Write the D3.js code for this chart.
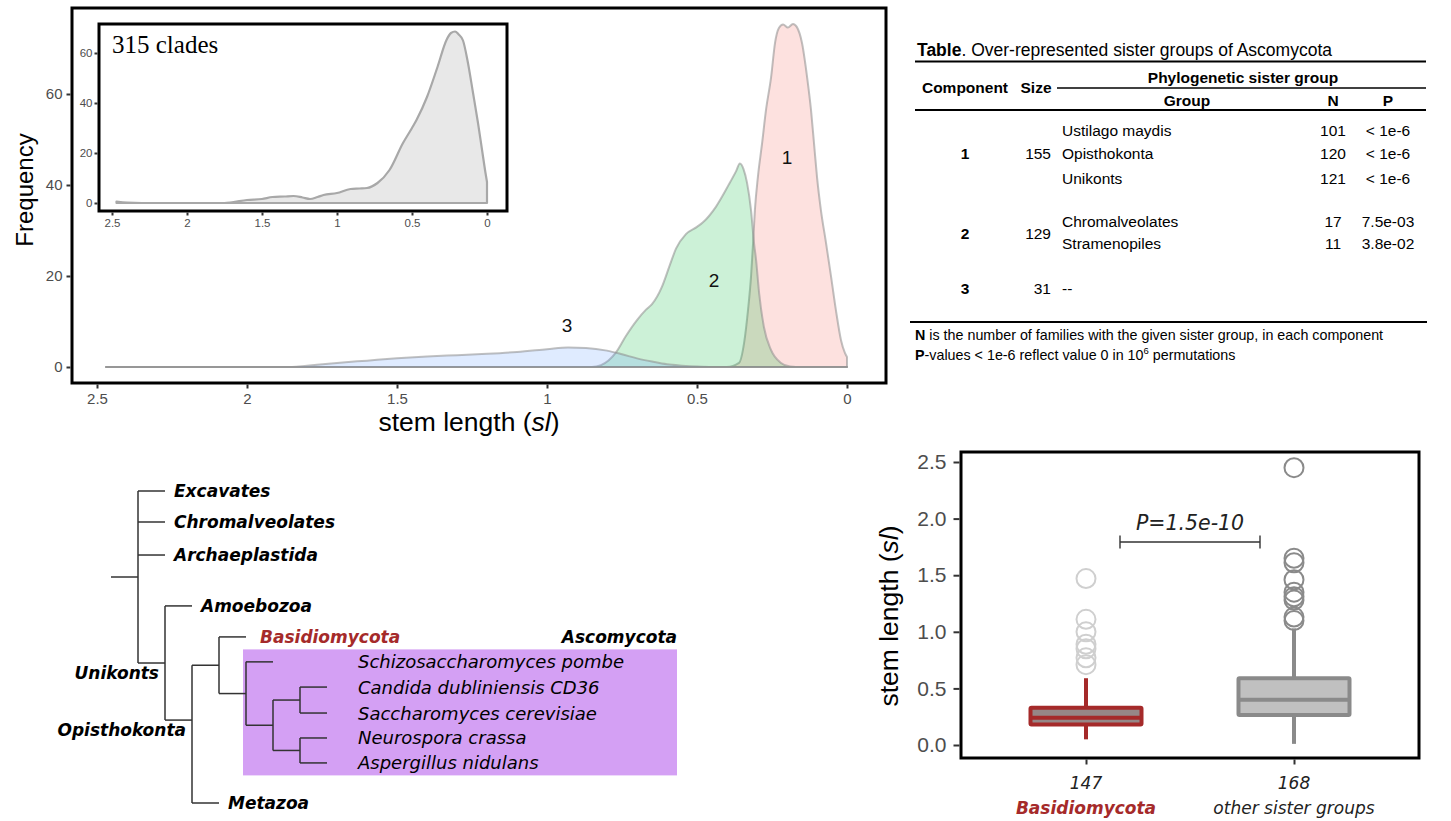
<!DOCTYPE html>
<html><head><meta charset="utf-8">
<script src="https://cdn.jsdelivr.net/npm/d3@7"></script>
<style>body{margin:0;background:#fff}svg{display:block}</style>
</head><body>
<svg id="c" width="1451" height="821"></svg>
<script>
// ---------------- DATA ----------------
const mainXTicks = [2.5, 2, 1.5, 1, 0.5, 0];
const mainYTicks = [0, 20, 40, 60];
// density components: [stem length, frequency]
const comp1 = [[2.47,0],[0.40,0],[0.36,0.9],[0.343,5.3],[0.33,12.5],[0.32,19.8],[0.313,27.3],[0.307,34.5],[0.297,41.8],[0.283,49.2],[0.27,56.5],[0.253,63.7],[0.24,71.2],[0.227,74.5],[0.213,75.3],[0.197,74.6],[0.18,75.4],[0.167,74.7],[0.15,71.2],[0.133,63.7],[0.12,56.5],[0.11,49.2],[0.1,41.8],[0.087,34.5],[0.07,27.3],[0.053,19.8],[0.037,12.5],[0.02,5.9],[0.007,3.1],[0,2.2]];
const comp2 = [[2.47,0],[0.85,0],[0.82,0.4],[0.77,3.2],[0.737,6.8],[0.70,10.3],[0.67,12.6],[0.65,13.8],[0.617,17.6],[0.59,22.5],[0.57,26],[0.537,29.2],[0.5,30.8],[0.48,31.8],[0.437,35.2],[0.393,40.2],[0.37,43],[0.357,44.7],[0.345,43.5],[0.333,40.4],[0.32,34.5],[0.31,27.3],[0.303,23.5],[0.293,16.3],[0.277,8.8],[0.253,3.7],[0.22,0.9],[0.19,0.1],[0.17,0],[0,0]];
const comp3 = [[2.47,0],[1.85,0],[1.8,0.3],[1.7,0.9],[1.6,1.4],[1.5,1.9],[1.4,2.3],[1.3,2.6],[1.2,2.9],[1.1,3.3],[1.0,3.9],[0.93,4.3],[0.87,4.2],[0.8,3.6],[0.75,2.8],[0.7,1.9],[0.65,1.2],[0.6,0.6],[0.55,0.3],[0.5,0.1],[0.45,0],[0,0]];
const compNames = ["1", "2", "3"];
const compLabelPos = [[0.2, 46], [0.443, 19], [0.933, 9.2]];
const compColors = ["rgba(248,118,109,0.22)", "rgba(0,186,56,0.2)", "rgba(97,156,255,0.2)"];
// inset: all clades
const allClades = [[2.47,0.6],[2.4,0.2],[2.3,0],[1.75,0],[1.7,0.3],[1.6,1.2],[1.5,1.6],[1.43,2.4],[1.35,2.6],[1.29,2.8],[1.23,2.2],[1.18,1.6],[1.13,2.4],[1.09,3.2],[1.0,4.0],[0.91,5.6],[0.85,5.8],[0.8,6.0],[0.73,8],[0.65,13.2],[0.56,24],[0.5,30],[0.47,33.2],[0.4,42.4],[0.33,54.4],[0.27,65.2],[0.24,68],[0.213,68.6],[0.19,67.5],[0.16,65],[0.13,57],[0.093,44],[0.06,32],[0.033,21.2],[0.01,12],[0,8.4]];
const insetTitle = "315 clades";

// table
const tableComponents = ["1", "2", "3"];
const tableSizes = ["155", "129", "31"];
const tableGroups = [["Ustilago maydis", "Opisthokonta", "Unikonts"], ["Chromalveolates", "Stramenopiles"], ["--"]];
const tableN = [["101", "120", "121"], ["17", "11"], [""]];
const tableP = [["< 1e-6", "< 1e-6", "< 1e-6"], ["7.5e-03", "3.8e-02"], [""]];

// tree
const treeIds = ["root","Excavates","Chromalveolates","Archaeplastida","Unikonts","Amoebozoa","Opisthokonta","Fungi","Metazoa","Basidiomycota","Ascomycota","Schizosaccharomyces pombe","Saccharomycotina+Pezizomycotina","Saccharomycotina","Pezizomycotina","Candida dubliniensis CD36","Saccharomyces cerevisiae","Neurospora crassa","Aspergillus nidulans"];
const treeParents = ["","root","root","root","root","Unikonts","Unikonts","Opisthokonta","Opisthokonta","Fungi","Fungi","Ascomycota","Ascomycota","Saccharomycotina+Pezizomycotina","Saccharomycotina+Pezizomycotina","Saccharomycotina","Saccharomycotina","Pezizomycotina","Pezizomycotina"];
const nodeRows = {"Excavates":0,"Chromalveolates":1.23,"Archaeplastida":2.54,"Amoebozoa":4.56,"Basidiomycota":5.79,"Schizosaccharomyces pombe":6.78,"Candida dubliniensis CD36":7.78,"Saccharomyces cerevisiae":8.81,"Neurospora crassa":9.8,"Aspergillus nidulans":10.79,"Metazoa":12.38,"Opisthokonta":9.09};
const cladeLabels = ["Unikonts", "Opisthokonta"];
const speciesLeaves = ["Schizosaccharomyces pombe","Candida dubliniensis CD36","Saccharomyces cerevisiae","Neurospora crassa","Aspergillus nidulans"];

// boxplot
const boxGroups = ["Basidiomycota", "other sister groups"];
const boxCounts = ["147", "168"];
const boxQ1 = [0.18, 0.265];
const boxMedian = [0.24, 0.40];
const boxQ3 = [0.33, 0.59];
const boxLow = [0.05, 0.01];
const boxHigh = [0.59, 1.03];
const boxOutliers = [[1.47, 1.11, 1.0, 0.89, 0.85, 0.77, 0.71], [2.45, 1.65, 1.61, 1.46, 1.35, 1.31, 1.28, 1.13, 1.10]];
const boxYTicks = [0, 0.5, 1, 1.5, 2, 2.5];
const pText = "P=1.5e-10";

// ---------------- DRAW ----------------
const svg = d3.select("#c");
const SANS = "'Liberation Sans', Arial, Helvetica, sans-serif";
const DV = "'DejaVu Sans', Verdana, sans-serif";
const SERIF = "'Liberation Serif', 'Times New Roman', serif";
const TICKCOL = "#4d4d4d";
const RED = "#a52a2a";

function styleAxis(g, size) {
  g.select(".domain").remove();
  g.selectAll(".tick line").attr("stroke", "#333").attr("stroke-width", 2);
  g.selectAll(".tick text").attr("fill", TICKCOL).attr("font-family", SANS).attr("font-size", size);
}

// ---- main density panel ----
const xM = d3.scaleLinear().domain([2.5, 0]).range([97, 847]);
const yM = d3.scaleLinear().domain([0, 60]).range([367, 94]);
const areaM = d3.area().x(d => xM(d[0])).y0(yM(0)).y1(d => yM(d[1])).curve(d3.curveMonotoneX);
[comp1, comp2, comp3].forEach((c, i) => {
  svg.append("path").attr("d", areaM(c)).attr("fill", compColors[i])
    .attr("stroke", "rgba(140,140,140,0.55)").attr("stroke-width", 2).attr("stroke-linejoin", "round");
});
compNames.forEach((n, i) => {
  svg.append("text").attr("x", xM(compLabelPos[i][0])).attr("y", yM(compLabelPos[i][1]))
    .attr("text-anchor", "middle").attr("dominant-baseline", "central")
    .attr("font-family", SANS).attr("font-size", 19).attr("fill", "#111").text(n);
});
svg.append("rect").attr("x", 72).attr("y", 8).attr("width", 814).attr("height", 375)
  .attr("fill", "none").attr("stroke", "#000").attr("stroke-width", 3);
svg.append("g").attr("transform", "translate(0,384.5)")
  .call(d3.axisBottom(xM).tickValues(mainXTicks).tickFormat(d3.format("")).tickSize(4).tickPadding(5))
  .call(g => styleAxis(g, 15));
svg.append("g").attr("transform", "translate(70.5,0)")
  .call(d3.axisLeft(yM).tickValues(mainYTicks).tickSize(4).tickPadding(4))
  .call(g => styleAxis(g, 15));
svg.append("text").attr("transform", "translate(33,190) rotate(-90)").attr("text-anchor", "middle")
  .attr("font-family", SANS).attr("font-size", 24).attr("fill", "#000").text("Frequency");
const xl = svg.append("text").attr("x", 469).attr("y", 431).attr("text-anchor", "middle")
  .attr("font-family", SANS).attr("font-size", 26.5).attr("fill", "#000");
xl.append("tspan").text("stem length (");
xl.append("tspan").attr("font-style", "italic").text("sl");
xl.append("tspan").text(")");

// ---- inset ----
const xI = d3.scaleLinear().domain([2.5, 0]).range([112, 487]);
const yI = d3.scaleLinear().domain([0, 60]).range([203, 53]);
svg.append("rect").attr("x", 99).attr("y", 24).attr("width", 408).attr("height", 187).attr("fill", "#fff");
const areaI = d3.area().x(d => xI(d[0])).y0(yI(0)).y1(d => yI(d[1])).curve(d3.curveMonotoneX);
svg.append("path").attr("d", areaI(allClades)).attr("fill", "#e8e8e8")
  .attr("stroke", "#a8a8a8").attr("stroke-width", 2.2).attr("stroke-linejoin", "round");
svg.append("rect").attr("x", 99).attr("y", 24).attr("width", 408).attr("height", 187)
  .attr("fill", "none").attr("stroke", "#000").attr("stroke-width", 3);
svg.append("g").attr("transform", "translate(0,212.5)")
  .call(d3.axisBottom(xI).tickValues(mainXTicks).tickFormat(d3.format("")).tickSize(3).tickPadding(3))
  .call(g => styleAxis(g, 11.5));
svg.append("g").attr("transform", "translate(97.5,0)")
  .call(d3.axisLeft(yI).tickValues(mainYTicks).tickSize(3).tickPadding(2))
  .call(g => styleAxis(g, 11.5));
svg.append("text").attr("x", 112).attr("y", 53).attr("font-family", SERIF).attr("font-size", 25)
  .attr("fill", "#000").text(insetTitle);

// ---- table ----
const T = svg.append("g").attr("font-family", SANS).attr("fill", "#000").style("white-space", "pre");
const tt = T.append("text").attr("x", 917).attr("y", 56).attr("font-size", 17.5);
tt.append("tspan").attr("font-weight", "bold").text("Table");
tt.append("tspan").text(". Over-represented sister groups of Ascomycota");
const hline = (x1, x2, y, w) => T.append("line").attr("x1", x1).attr("x2", x2).attr("y1", y).attr("y2", y).attr("stroke", "#000").attr("stroke-width", w);
hline(915, 1426, 61.5, 2);
hline(1057, 1426, 88, 1.6);
hline(915, 1426, 110, 2);
hline(910, 1427, 322, 1.8);
const th = (x, y, s) => T.append("text").attr("x", x).attr("y", y).attr("text-anchor", "middle").attr("font-size", 15.5).attr("font-weight", "bold").text(s);
th(965, 92.5, "Component"); th(1036, 92.5, "Size");
th(1243, 82.5, "Phylogenetic sister group");
th(1187, 105.5, "Group"); th(1333, 105.5, "N"); th(1388, 105.5, "P");
const rowY = [[130, 153, 178], [221, 243], [288]];
const compY = [153, 233, 288];
tableComponents.forEach((c, i) => {
  T.append("text").attr("x", 965).attr("y", compY[i] + 5.5).attr("text-anchor", "middle").attr("font-size", 15.5).attr("font-weight", "bold").text(c);
  T.append("text").attr("x", 1051).attr("y", compY[i] + 5.5).attr("text-anchor", "end").attr("font-size", 15.5).text(tableSizes[i]);
  tableGroups[i].forEach((gname, j) => {
    const y = rowY[i][j] + 5.5;
    T.append("text").attr("x", 1062).attr("y", y).attr("font-size", 15.5).text(gname);
    T.append("text").attr("x", 1333).attr("y", y).attr("text-anchor", "middle").attr("font-size", 15.5).text(tableN[i][j]);
    T.append("text").attr("x", 1388).attr("y", y).attr("text-anchor", "middle").attr("font-size", 15.5).text(tableP[i][j]);
  });
});
const f1 = T.append("text").attr("x", 915).attr("y", 340).attr("font-size", 14.3);
f1.append("tspan").attr("font-weight", "bold").text("N");
f1.append("tspan").text(" is the number of  families with the given sister group, in each component");
const f2 = T.append("text").attr("x", 915).attr("y", 360).attr("font-size", 14.3);
f2.append("tspan").attr("font-weight", "bold").text("P");
f2.append("tspan").text("-values < 1e-6 reflect value 0 in 10");
f2.append("tspan").attr("font-size", 9.5).attr("dy", -6).text("6");
f2.append("tspan").attr("dy", 6).text(" permutations");

// ---- tree ----
const root = d3.stratify().id(d => d.id).parentId(d => d.parent)(treeIds.map((id, i) => ({id, parent: treeParents[i] || null})));
const xT = d3.scaleLinear().domain([0, 7]).range([138, 327]);
const yT = d3.scaleLinear().domain([0, 12.38]).range([491, 803]);
root.eachAfter(n => {
  if (nodeRows[n.id] !== undefined) n.yy = yT(nodeRows[n.id]);
  else { const ys = n.children.map(c => c.yy); n.yy = (d3.min(ys) + d3.max(ys)) / 2; }
  n.xx = xT(n.depth);
});
const asco = root.find(n => n.id === "Ascomycota");
const bas = root.find(n => n.id === "Basidiomycota");
const ascLeaves = asco.leaves();
const boxTop = (bas.yy + ascLeaves[0].yy) / 2;
const lastL = ascLeaves[ascLeaves.length - 1].yy;
const speciesX = xT(8) + 4;
svg.append("rect").attr("x", asco.xx - 3).attr("y", boxTop).attr("width", 677 - (asco.xx - 3))
  .attr("height", lastL + (lastL - ascLeaves[ascLeaves.length - 2].yy) / 2 - boxTop).attr("fill", "#d4a0f4");
const TL = svg.append("g").attr("stroke", "#333").attr("stroke-width", 1.5);
TL.append("line").attr("x1", xT(-1)).attr("x2", root.xx).attr("y1", root.yy).attr("y2", root.yy);
root.each(n => {
  if (n.children) {
    const ys = n.children.map(c => c.yy);
    TL.append("line").attr("x1", n.xx).attr("x2", n.xx).attr("y1", d3.min(ys)).attr("y2", d3.max(ys));
    n.children.forEach(c => TL.append("line").attr("x1", n.xx).attr("x2", c.xx).attr("y1", c.yy).attr("y2", c.yy));
  }
});
root.leaves().forEach(n => {
  const isSp = speciesLeaves.includes(n.id);
  const isBas = n.id === "Basidiomycota";
  svg.append("text").attr("x", isSp ? speciesX : n.xx + (isBas ? 14 : 9)).attr("y", n.yy)
    .attr("dominant-baseline", "central").attr("font-family", DV)
    .attr("font-size", isSp ? 18 : 17).attr("font-style", "italic")
    .attr("font-weight", isSp ? "normal" : "bold")
    .attr("fill", isBas ? RED : "#000").text(n.id);
});
cladeLabels.forEach(id => {
  const n = root.find(d => d.id === id);
  svg.append("text").attr("x", n.xx - 6).attr("y", n.yy + 10).attr("text-anchor", "end")
    .attr("dominant-baseline", "central").attr("font-family", DV).attr("font-size", 17)
    .attr("font-style", "italic").attr("font-weight", "bold").attr("fill", "#000").text(id);
});
svg.append("text").attr("x", 677).attr("y", bas.yy).attr("text-anchor", "end").attr("dominant-baseline", "central")
  .attr("font-family", DV).attr("font-size", 17).attr("font-style", "italic").attr("font-weight", "bold")
  .attr("fill", "#000").text("Ascomycota");

// ---- boxplot ----
const yB = d3.scaleLinear().domain([0, 2.5]).range([745, 462]);
const xB = d3.scalePoint().domain(boxGroups).range([1086, 1294]);
const boxW = 111;
const strokes = [RED, "#8a8a8a"], fills = ["#968787", "#c0c0c0"], outCols = ["#cfcfcf", "#8a8a8a"];
boxGroups.forEach((g, i) => {
  const cx = xB(g);
  svg.append("line").attr("x1", cx).attr("x2", cx).attr("y1", yB(boxQ3[i])).attr("y2", yB(boxHigh[i])).attr("stroke", strokes[i]).attr("stroke-width", 4);
  svg.append("line").attr("x1", cx).attr("x2", cx).attr("y1", yB(boxQ1[i])).attr("y2", yB(boxLow[i])).attr("stroke", strokes[i]).attr("stroke-width", 4);
  svg.append("rect").attr("x", cx - boxW / 2).attr("y", yB(boxQ3[i])).attr("width", boxW).attr("height", yB(boxQ1[i]) - yB(boxQ3[i]))
    .attr("fill", fills[i]).attr("stroke", strokes[i]).attr("stroke-width", 4).attr("rx", 1);
  svg.append("line").attr("x1", cx - boxW / 2).attr("x2", cx + boxW / 2).attr("y1", yB(boxMedian[i])).attr("y2", yB(boxMedian[i])).attr("stroke", strokes[i]).attr("stroke-width", 4);
  boxOutliers[i].forEach(v => svg.append("circle").attr("cx", cx).attr("cy", yB(v)).attr("r", 9.5)
    .attr("fill", "none").attr("stroke", outCols[i]).attr("stroke-width", 2));
  svg.append("text").attr("x", cx).attr("y", 789).attr("text-anchor", "middle").attr("font-family", DV)
    .attr("font-size", 17).attr("font-style", "italic").attr("fill", "#222").text(boxCounts[i]);
  svg.append("text").attr("x", cx).attr("y", 814).attr("text-anchor", "middle").attr("font-family", DV)
    .attr("font-size", 17).attr("font-style", "italic").attr("font-weight", i === 0 ? "bold" : "normal")
    .attr("fill", i === 0 ? RED : "#222").text(g);
});
svg.append("rect").attr("x", 961).attr("y", 452).attr("width", 458).attr("height", 306)
  .attr("fill", "none").attr("stroke", "#000").attr("stroke-width", 3);
svg.append("g").attr("transform", "translate(959.5,0)")
  .call(d3.axisLeft(yB).tickValues(boxYTicks).tickFormat(d3.format(".1f")).tickSize(6).tickPadding(7))
  .call(g => styleAxis(g, 21));
svg.append("g").attr("transform", "translate(0,759.5)")
  .call(d3.axisBottom(xB).tickSize(5).tickFormat(""))
  .call(g => styleAxis(g, 10));
const yl = svg.append("text").attr("transform", "translate(898,616) rotate(-90)").attr("text-anchor", "middle")
  .attr("font-family", SANS).attr("font-size", 26.5).attr("fill", "#000");
yl.append("tspan").text("stem length (");
yl.append("tspan").attr("font-style", "italic").text("sl");
yl.append("tspan").text(")");
// significance bracket
const bx1 = xB(boxGroups[0]) + 34, bx2 = xB(boxGroups[1]) - 34, by = 542;
const br = svg.append("g").attr("stroke", "#333").attr("stroke-width", 1.4);
br.append("line").attr("x1", bx1).attr("x2", bx2).attr("y1", by).attr("y2", by);
br.append("line").attr("x1", bx1).attr("x2", bx1).attr("y1", by - 6.5).attr("y2", by + 6.5);
br.append("line").attr("x1", bx2).attr("x2", bx2).attr("y1", by - 6.5).attr("y2", by + 6.5);
svg.append("text").attr("x", (bx1 + bx2) / 2).attr("y", 530).attr("text-anchor", "middle").attr("font-family", DV)
  .attr("font-size", 20.5).attr("font-style", "italic").attr("fill", "#222").text(pText);
</script>
</body></html>
